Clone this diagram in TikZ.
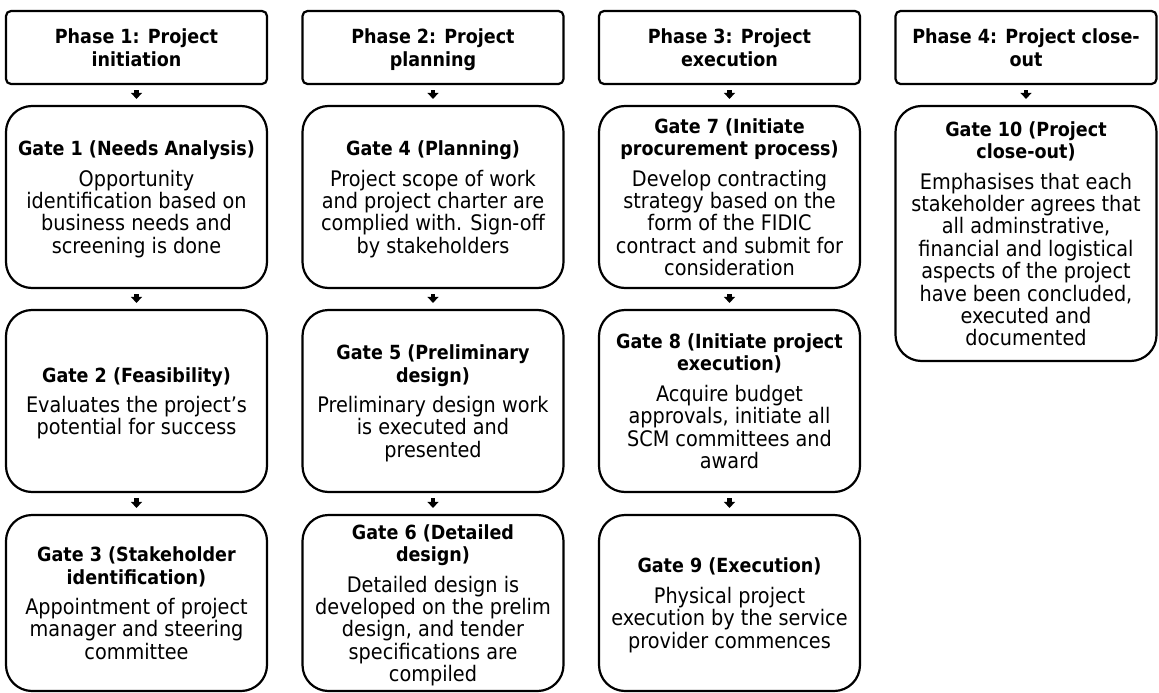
\documentclass[tikz,border=0pt]{standalone}
\usepackage{fontspec}
\setmainfont{DejaVu Sans Condensed}
\usetikzlibrary{arrows.meta}
% bold heading lines, set a little smaller than the body text
\newcommand{\gatehead}[1]{{\fontsize{19.5}{22.4}\selectfont\bfseries #1}}
% first heading line of a box, with a fixed top height so all boxes centre alike
\newcommand{\firsthead}[1]{\gatehead{\rule{0pt}{20.1pt}#1}}
\begin{document}
\begin{tikzpicture}[x=1pt,y=-1pt,
  every node/.style={font=\fontsize{21.4}{22.4}\selectfont, align=center, inner sep=0pt,
    execute at end node={\rule[-5.1pt]{0pt}{5.1pt}}},
  phasebox/.style={draw=black, line width=2.2pt, rounded corners=5pt,
    minimum width=261pt, minimum height=73pt},
  gatebox/.style={draw=black, line width=2.2pt, rounded corners=26pt,
    minimum width=261pt},
  flow/.style={line width=4.5pt, -{Triangle[width=11pt,length=6pt]},
    shorten <=5pt, shorten >=6pt}
]
\useasboundingbox (0,0) rectangle (1159,693);

% phase headers
\node[phasebox] (p1) at (136.5,47.5) {\firsthead{Phase 1: Project}\\\gatehead{initiation}};
\node[phasebox] (p2) at (433,47.5) {\firsthead{Phase 2: Project}\\\gatehead{planning}};
\node[phasebox] (p3) at (729.5,47.5) {\firsthead{Phase 3: Project}\\\gatehead{execution}};
\node[phasebox] (p4) at (1026,47.5) {\firsthead{Phase 4: Project close-}\\\gatehead{out}};

% phase 1 gates
\node[gatebox, minimum height=182pt] (g1) at (136.5,197)
  {\firsthead{Gate 1 (Needs Analysis)}\\[8pt]Opportunity\\identification based on\\business needs and\\screening is done};
\node[gatebox, minimum height=182pt] (g2) at (136.5,401)
  {\firsthead{Gate 2 (Feasibility)}\\[8pt]Evaluates the project's\\potential for success};
\node[gatebox, minimum height=176pt] (g3) at (136.5,603)
  {\firsthead{Gate 3 (Stakeholder}\\\gatehead{identification)}\\[8pt]Appointment of project\\manager and steering\\committee};

% phase 2 gates
\node[gatebox, minimum height=182pt] (g4) at (433,197)
  {\firsthead{Gate 4 (Planning)}\\[8pt]Project scope of work\\and project charter are\\complied with. Sign-off\\by stakeholders};
\node[gatebox, minimum height=182pt] (g5) at (433,401)
  {\firsthead{Gate 5 (Preliminary}\\\gatehead{design)}\\[8pt]Preliminary design work\\is executed and\\presented};
\node[gatebox, minimum height=176pt] (g6) at (433,603)
  {\firsthead{Gate 6 (Detailed}\\\gatehead{design)}\\[8pt]Detailed design is\\developed on the prelim\\design, and tender\\specifications are\\compiled};

% phase 3 gates
\node[gatebox, minimum height=182pt] (g7) at (729.5,197)
  {\firsthead{Gate 7 (Initiate}\\\gatehead{procurement process)}\\[8pt]Develop contracting\\strategy based on the\\form of the FIDIC\\contract and submit for\\consideration};
\node[gatebox, minimum height=182pt] (g8) at (729.5,401)
  {\firsthead{Gate 8 (Initiate project}\\\gatehead{execution)}\\[8pt]Acquire budget\\approvals, initiate all\\SCM committees and\\award};
\node[gatebox, minimum height=176pt] (g9) at (729.5,603)
  {\firsthead{Gate 9 (Execution)}\\[8pt]Physical project\\execution by the service\\provider commences};

% phase 4 gate
\node[gatebox, minimum height=255pt] (g10) at (1026,233.5)
  {\firsthead{Gate 10 (Project}\\\gatehead{close-out)}\\[8pt]Emphasises that each\\stakeholder agrees that\\all adminstrative,\\financial and logistical\\aspects of the project\\have been concluded,\\executed and\\documented};

% flow arrows
\foreach \a/\b in {p1/g1,g1/g2,g2/g3,p2/g4,g4/g5,g5/g6,p3/g7,g7/g8,g8/g9,p4/g10}
  \draw[flow] (\a) -- (\b);
\end{tikzpicture}
\end{document}
